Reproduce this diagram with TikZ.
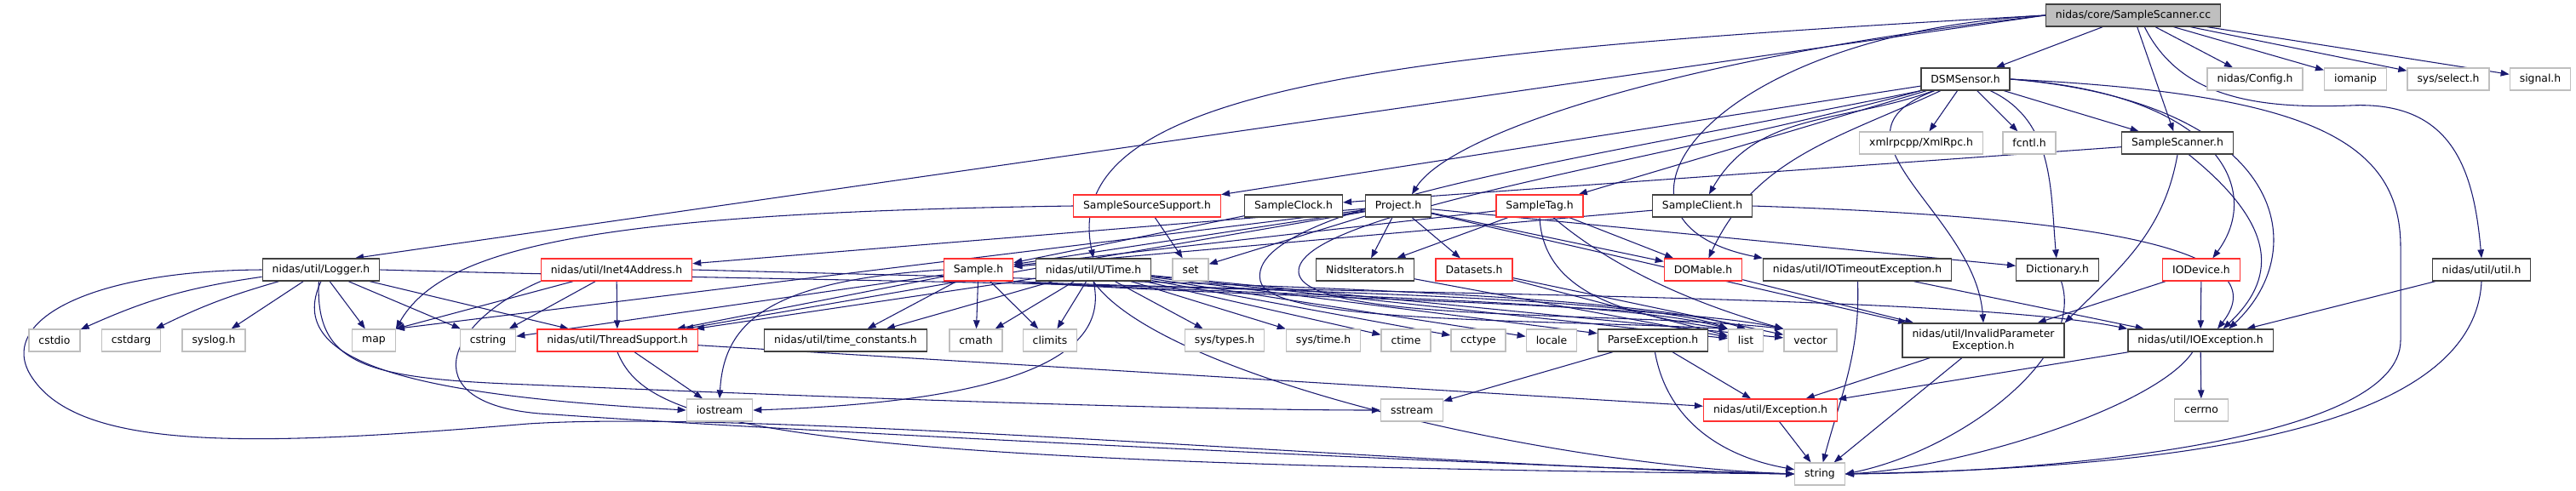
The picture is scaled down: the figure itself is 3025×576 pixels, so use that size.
\documentclass[tikz,border=0pt]{standalone}
\usepackage{fontspec}
\setmainfont{DejaVu Sans}
\usetikzlibrary{arrows.meta,backgrounds}
\definecolor{edgeblue}{HTML}{191970}
\definecolor{sysgray}{HTML}{BFBFBF}
\definecolor{truncred}{HTML}{FF3030}

\begin{document}
\begin{tikzpicture}[x=0.75pt, y=0.75pt, every node/.style={font=\fontsize{9.3}{11}\selectfont}]
\tikzset{hdr/.style={draw=black!75, fill=white, line width=1pt, inner xsep=8.6pt, inner ysep=0pt, minimum height=19.5pt}}
\tikzset{redhdr/.style={hdr, draw=truncred}}
\tikzset{syshdr/.style={hdr, draw=sysgray}}
\tikzset{mainhdr/.style={hdr, fill=sysgray}}
\tikzset{dep/.style={-{Triangle[length=7.5pt,width=5.6pt]}, draw=edgeblue, line width=0.8pt}}
\useasboundingbox (0,0) rectangle (3025,-576);

% top rows
\node[mainhdr] (sscc) at (2505,-18) {nidas/core/SampleScanner.cc};
\node[hdr] (dsm) at (2308,-93) {DSMSensor.h};
\node[syshdr] (config) at (2648,-93) {nidas/Config.h};
\node[syshdr] (iomanip) at (2766,-93) {iomanip};
\node[syshdr] (sysselect) at (2875,-93) {sys/select.h};
\node[syshdr] (signal) at (2983,-93) {signal.h};
\node[syshdr] (xmlrpc) at (2256,-168) {xmlrpcpp/XmlRpc.h};
\node[syshdr] (fcntl) at (2383,-168) {fcntl.h};
\node[hdr] (scanh) at (2557,-168) {SampleScanner.h};
\node[redhdr] (srcsup) at (1347,-242) {SampleSourceSupport.h};
\node[hdr] (clock) at (1519,-242) {SampleClock.h};
\node[hdr] (project) at (1642,-242) {Project.h};
\node[redhdr] (tag) at (1808,-242) {SampleTag.h};
\node[hdr] (client) at (1999,-242) {SampleClient.h};

% middle row
\node[hdr] (logger) at (377,-317) {nidas/util/Logger.h};
\node[redhdr] (inet) at (724,-317) {nidas/util/Inet4Address.h};
\node[redhdr] (sample) at (1149,-317) {Sample.h};
\node[hdr] (utime) at (1284,-317) {nidas/util/UTime.h};
\node[syshdr] (set) at (1398,-317) {set};
\node[hdr] (iters) at (1603,-317) {NidsIterators.h};
\node[redhdr] (datasets) at (1731,-317) {Datasets.h};
\node[redhdr] (domable) at (2000,-317) {DOMable.h};
\node[hdr] (iotimeout) at (2181,-317) {nidas/util/IOTimeoutException.h};
\node[hdr] (dict) at (2416,-317) {Dictionary.h};
\node[redhdr] (iodevice) at (2585,-317) {IODevice.h};
\node[hdr] (utilh) at (2914,-317) {nidas/util/util.h};

% lower rows
\node[syshdr] (cstdio) at (64,-400) {cstdio};
\node[syshdr] (cstdarg) at (154,-400) {cstdarg};
\node[syshdr] (syslog) at (251,-400) {syslog.h};
\node[syshdr] (map) at (439,-400) {map};
\node[syshdr] (cstring) at (573,-400) {cstring};
\node[redhdr] (thread) at (725,-400) {nidas/util/ThreadSupport.h};
\node[hdr] (timeconst) at (993,-400) {nidas/util/time\_constants.h};
\node[syshdr] (cmath) at (1146,-400) {cmath};
\node[syshdr] (climits) at (1233,-400) {climits};
\node[syshdr] (systypes) at (1438,-400) {sys/types.h};
\node[syshdr] (systime) at (1554,-400) {sys/time.h};
\node[syshdr] (ctime) at (1651,-400) {ctime};
\node[syshdr] (cctype) at (1736,-400) {cctype};
\node[syshdr] (locale) at (1822,-400) {locale};
\node[hdr] (parseex) at (1941,-400) {ParseException.h};
\node[syshdr] (list) at (2050,-400) {list};
\node[syshdr] (vector) at (2126,-400) {vector};
\node[hdr, align=center, minimum height=30pt, inner ysep=2pt] (invparam) at (2329,-400) {nidas/util/InvalidParameter\\Exception.h};
\node[hdr] (ioex) at (2584,-400) {nidas/util/IOException.h};
\node[syshdr] (iostream) at (845,-482) {iostream};
\node[syshdr] (sstream) at (1658,-482) {sstream};
\node[redhdr] (exception) at (2079,-482) {nidas/util/Exception.h};
\node[syshdr] (cerrno) at (2585,-482) {cerrno};
\node[syshdr] (string) at (2137,-557) {string};

\begin{scope}[on background layer]
% SampleScanner.cc
\draw[dep] (sscc) -- (dsm);
\draw[dep] (sscc) -- (config);
\draw[dep] (sscc) -- (iomanip);
\draw[dep] (sscc) -- (sysselect);
\draw[dep] (sscc) -- (signal);
\draw[dep] (sscc) -- (scanh);
\draw[dep] ([xshift=10pt]sscc.south) .. controls (2560,-115) and (2650,-128) .. (2760,-124) .. controls (2880,-118) and (2905,-200) .. (utilh.north);
\draw[dep] (sscc.west) -- ([xshift=30pt]logger.north);
\draw[dep] (sscc.west) .. controls (1650,-60) and (1240,-100) .. (utime.north);
\draw[dep] (sscc.west) .. controls (1950,-70) and (1700,-160) .. ([xshift=12pt]project.north);
\draw[dep] (sscc.west) .. controls (2000,-40) and (1850,-260) .. (iotimeout.north west);
% DSMSensor.h
\draw[dep] (dsm) -- (xmlrpc);
\draw[dep] (dsm) -- (fcntl);
\draw[dep] (dsm) -- (scanh);
\draw[dep] (dsm) -- (srcsup);
\draw[dep] (dsm) -- (tag);
\draw[dep] (dsm) to[out=200,in=60] (client);
\draw[dep] (dsm) to[out=205,in=65] (domable);
\draw[dep] (dsm) .. controls (2130,-160) and (2320,-250) .. (invparam.north);
\draw[dep] (dsm) to[out=-25,in=95] (dict);
\draw[dep] (dsm.east) .. controls (2600,-110) and (2660,-220) .. ([xshift=10pt]iodevice.north);
\draw[dep] (dsm.east) .. controls (2680,-120) and (2720,-290) .. ([xshift=25pt]ioex.north);
\draw[dep] (dsm.east) .. controls (2700,-110) and (2819,-160) .. (2819,-290) -- (2819,-400) .. controls (2819,-520) and (2400,-555) .. (string.east);
\draw[dep] (dsm.south west) .. controls (1900,-180) and (1460,-240) .. (1480,-330) .. controls (1490,-380) and (1800,-375) .. (list.north west);
\draw[dep] (dsm.south west) .. controls (1950,-190) and (1520,-250) .. (1525,-320) .. controls (1530,-380) and (1900,-365) .. (vector.north west);
% SampleScanner.h
\draw[dep] (scanh) -- (clock);
\draw[dep] (scanh.south) to[out=-100,in=45] (invparam.north east);
\draw[dep] ([xshift=10pt]scanh.south) .. controls (2680,-270) and (2670,-330) .. ([xshift=20pt]ioex.north);
% second row headers
\draw[dep] (client) -- (sample);
\draw[dep] (client.east) .. controls (2450,-255) and (2680,-290) .. ([xshift=15pt]ioex.north);
\draw[dep] (tag) -- (sample);
\draw[dep] (tag) -- (domable);
\draw[dep] (tag) -- (iters);
\draw[dep] (tag.south) .. controls (1812,-340) and (1900,-370) .. (list.north west);
\draw[dep] (tag) .. controls (1900,-320) and (2000,-360) .. (vector.north west);
\draw[dep] (project) -- (sample);
\draw[dep] (project) -- (set);
\draw[dep] (project) -- (iters);
\draw[dep] (project) -- (datasets);
\draw[dep] (project) -- (domable);
\draw[dep] (project) -- (dict);
\draw[dep] (project) -- (inet);
\draw[dep] (project) -- (map.north east);
\draw[dep] (project) -- (thread);
\draw[dep] (project) -- (invparam);
\draw[dep] (clock) -- (sample);
\draw[dep] (srcsup) -- (set);
\draw[dep] (srcsup.west) .. controls (700,-250) and (520,-290) .. (map.north east);
% Logger.h
\draw[dep] (logger) to[bend right=8] (cstdio);
\draw[dep] (logger) to[bend right=5] (cstdarg);
\draw[dep] (logger) -- (syslog);
\draw[dep] (logger) -- (map);
\draw[dep] (logger) -- (cstring);
\draw[dep] (logger) -- (thread);
\draw[dep] (logger.south) .. controls (330,-430) and (500,-465) .. (iostream.west);
\draw[dep] ([xshift=-2pt]logger.south) .. controls (370,-430) and (430,-445) .. (620,-452) .. controls (1000,-468) and (1400,-482) .. (sstream.west);
\draw[dep] (logger.west) .. controls (100,-318) and (-10,-380) .. (40,-447) .. controls (100,-530) and (300,-525) .. (620,-498) .. controls (900,-480) and (1700,-550) .. (string.west);
\draw[dep] (logger.east) .. controls (1000,-333) and (1900,-335) .. (list.north west);
% Inet4Address.h
\draw[dep] (inet) -- (thread);
\draw[dep] (inet) -- (map.north east);
\draw[dep] (inet) -- (cstring);
\draw[dep] (inet.south west) .. controls (520,-380) and (480,-480) .. (650,-487) .. controls (900,-505) and (1700,-545) .. (string.west);
\draw[dep] (inet.east) .. controls (1300,-330) and (1900,-340) .. (list.north);
% Sample.h
\draw[dep] (sample) -- (cstring);
\draw[dep] (sample) -- (thread);
\draw[dep] (sample) -- (timeconst);
\draw[dep] (sample) -- (cmath);
\draw[dep] (sample) -- (climits);
\draw[dep] (sample.west) .. controls (900,-330) and (850,-380) .. (iostream.north);
\draw[dep] (sample.south east) .. controls (1400,-345) and (1900,-350) .. (list.north west);
\draw[dep] (sample.south east) .. controls (1450,-350) and (1950,-355) .. (vector.north west);
\draw[dep] (sample.south east) .. controls (1500,-345) and (2300,-345) .. (ioex.north west);
% UTime.h
\draw[dep] (utime) -- (thread);
\draw[dep] (utime) -- (timeconst);
\draw[dep] (utime) -- (cmath);
\draw[dep] (utime) -- (climits);
\draw[dep] (utime) -- (systypes);
\draw[dep] (utime) -- (systime);
\draw[dep] (utime) -- (ctime);
\draw[dep] (utime) -- (cctype);
\draw[dep] (utime) -- (locale);
\draw[dep] (utime) -- (parseex);
\draw[dep] (utime) -- (list);
\draw[dep] (utime) -- (vector);
\draw[dep] (utime.south) .. controls (1300,-400) and (1240,-470) .. (iostream.east);
\draw[dep] (utime.south) .. controls (1360,-440) and (1800,-545) .. (string.west);
% lower headers
\draw[dep] (thread) -- (iostream);
\draw[dep] (thread.south) .. controls (760,-500) and (900,-545) .. (string.west);
\draw[dep] (thread) -- (exception);
\draw[dep] (parseex) -- (exception);
\draw[dep] (parseex) to[out=-80,in=170] (string);
\draw[dep] (parseex) -- (sstream);
\draw[dep] (exception) -- (string);
\draw[dep] (ioex) -- (exception);
\draw[dep] (ioex) -- (cerrno);
\draw[dep] (ioex) .. controls (2530,-480) and (2300,-550) .. (string.east);
\draw[dep] (iotimeout) -- (ioex);
\draw[dep] (iotimeout) to[out=-88,in=75] (string);
\draw[dep] (invparam) -- (exception);
\draw[dep] (invparam) -- (string);
\draw[dep] (domable) -- (invparam);
\draw[dep] (iodevice) -- (ioex);
\draw[dep] (iodevice) -- (invparam);
\draw[dep] (dict) .. controls (2450,-420) and (2300,-530) .. (string.east);
\draw[dep] (utilh) -- (ioex);
\draw[dep] (utilh.south) .. controls (2905,-520) and (2500,-550) .. (string.east);
\draw[dep] (datasets) -- (list);
\draw[dep] (datasets) -- (vector);
\draw[dep] (iters) -- (list);
\end{scope}
\end{tikzpicture}
\end{document}
